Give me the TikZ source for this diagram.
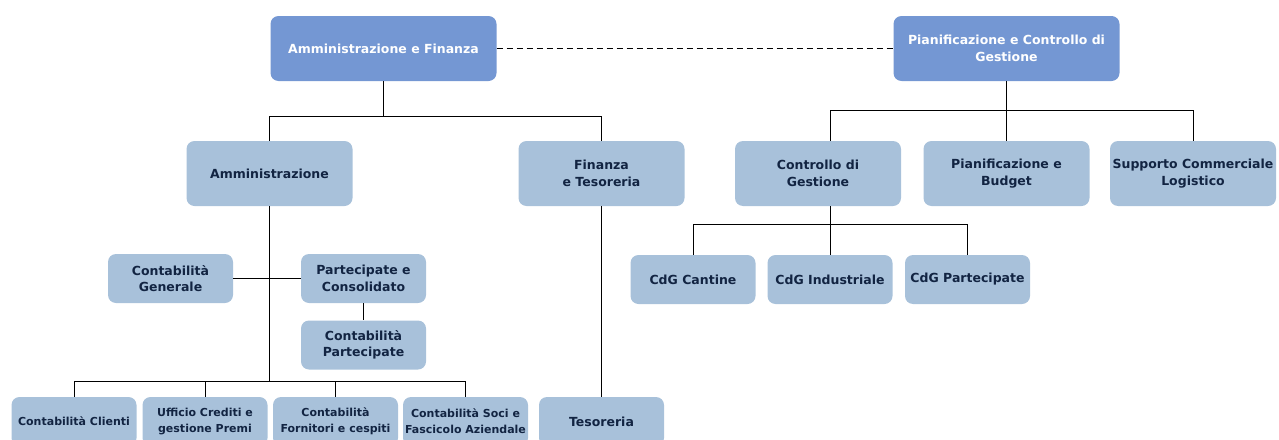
\documentclass[tikz,border=0pt]{standalone}
\usepackage{fontspec}
\setmainfont{DejaVu Sans}
\usepackage{tikz}
\definecolor{topblue}{RGB}{116,151,211}
\definecolor{subblue}{RGB}{168,193,218}
\definecolor{inkblue}{RGB}{18,36,66}

\begin{document}
\begin{tikzpicture}[x=1pt,y=-1pt,
  every node/.style={rounded corners=8pt,align=center,inner sep=2pt,
    font=\bfseries\fontsize{12.5}{16.5}\selectfont},
  topunit/.style={fill=topblue,text=white,minimum width=226pt,minimum height=65pt},
  unit/.style={fill=subblue,text=inkblue,minimum width=166pt,minimum height=65pt},
  office/.style={fill=subblue,text=inkblue,minimum width=125pt,minimum height=49pt},
  narrow/.style={font=\bfseries\fontsize{11}{16}\selectfont},
  link/.style={line width=0.8pt}]
\useasboundingbox (0,0) rectangle (1279,439);

\node[topunit] (af)  at (383.5,48.5) {Amministrazione e Finanza};
\node[topunit] (pcg) at (1006.5,48.5) {Pianificazione e Controllo di\\Gestione};

\node[unit] (amm)  at (269.5,173.5) {Amministrazione};
\node[unit] (fin)  at (601.5,173.5) {Finanza\\e Tesoreria};
\node[unit] (cdg)  at (818,173.5)   {Controllo di\\Gestione};
\node[unit] (pian) at (1006.5,173.5) {Pianificazione e\\Budget};
\node[unit] (supp) at (1193,173.5)  {Supporto Commerciale\\Logistico};

\node[office] (gen)  at (170.5,278.5) {Contabilità\\Generale};
\node[office] (par)  at (363.5,278.5) {Partecipate e\\Consolidato};
\node[office] (cpar) at (363.5,345)   {Contabilità\\Partecipate};

\node[office] (cant) at (693,279.5)   {CdG Cantine};
\node[office] (ind)  at (830,279.5)   {CdG Industriale};
\node[office] (cpt)  at (967.5,279.5) {CdG Partecipate};

\node[office,narrow] (cli)  at (74,421.5)    {Contabilità Clienti};
\node[office,narrow] (uff)  at (205,421.5)   {Ufficio Crediti e\\gestione Premi};
\node[office,narrow] (forn) at (335.5,421.5) {Contabilità\\Fornitori e cespiti};
\node[office,narrow] (soci) at (465.5,421.5) {Contabilità Soci e\\Fascicolo Aziendale};
\node[office] (tes)  at (601.5,421.5) {Tesoreria};

\draw[link,dash pattern=on 6pt off 4pt] (af.east) -- (pcg.west);

\foreach \n in {amm,fin}
  \draw[link] (af.south) -- ++(0,35) -| (\n.north);
\draw[link] (pcg.south) -- ++(0,29) -| ([xshift=12pt]cdg.north);
\draw[link] (pcg.south) -- ++(0,29) -| (supp.north);
\draw[link] (pcg.south) -- (pian.north);

\foreach \n in {cant,ind,cpt}
  \draw[link] ([xshift=12pt]cdg.south) -- ++(0,18) -| (\n.north);

\draw[link] (gen.east) -- (par.west);
\draw[link] (par.south) -- (cpar.north);
\foreach \n in {cli,uff,forn,soci}
  \draw[link] (amm.south) -- ++(0,175) -| (\n.north);
\draw[link] (fin.south) -- (tes.north);
\end{tikzpicture}
\end{document}
